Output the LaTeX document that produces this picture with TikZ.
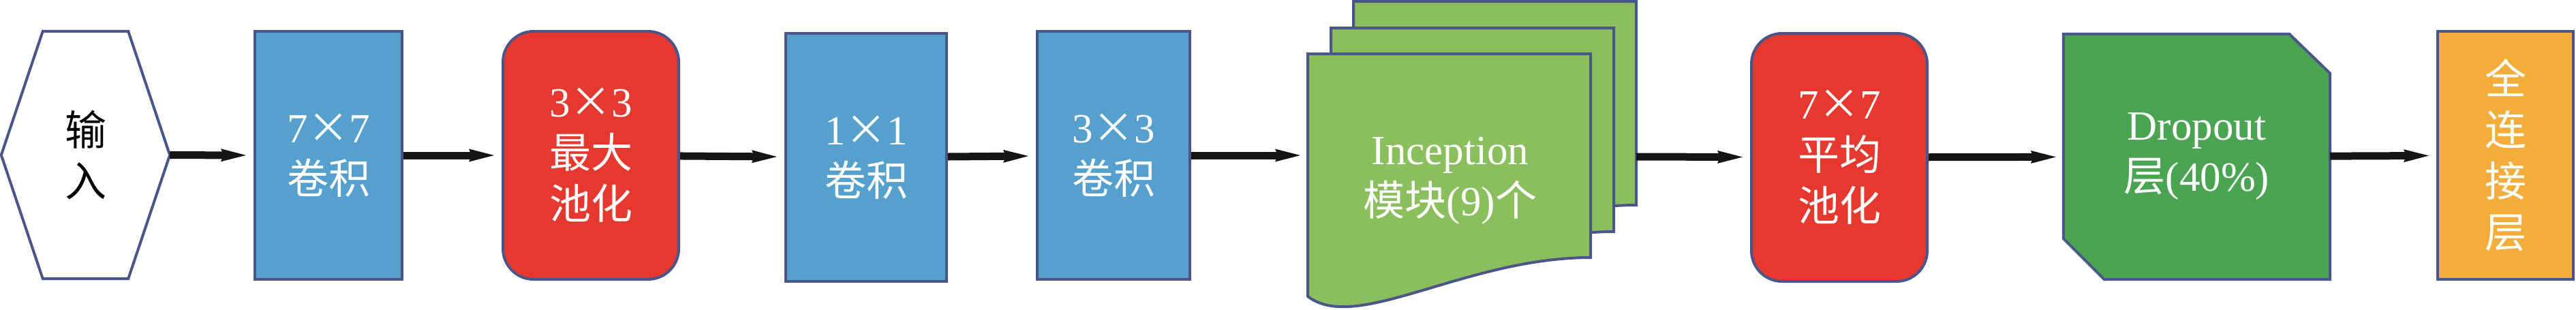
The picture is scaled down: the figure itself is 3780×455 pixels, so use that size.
\documentclass[tikz,border=0pt]{standalone}
\usepackage{fontspec}
\setmainfont{Liberation Serif}
\newfontfamily\cjk{Noto Sans CJK SC}
\usetikzlibrary{arrows.meta,calc,backgrounds}
\definecolor{bd}{HTML}{4A5589}
\definecolor{cblue}{HTML}{56A0CE}
\definecolor{cred}{HTML}{E5392F}
\definecolor{cgreen}{HTML}{8BBE5D}
\definecolor{cdgreen}{HTML}{4AA451}
\definecolor{corange}{HTML}{F2AD3A}
\definecolor{carrow}{HTML}{151515}
\newcommand\tms{{\cjk ×}}
\begin{document}
\begin{tikzpicture}[x=1pt,y=-1pt,
  txt/.style={inner sep=0pt, align=center, text=white, font=\fontsize{61}{75}\selectfont},
  blk/.style={txt, draw=bd, line width=4pt},
  outl/.style={draw=bd, line width=4pt},
  arr/.style={draw=carrow, line width=11pt, -{Stealth[length=37pt,width=19pt,inset=4pt,line width=0pt]}, shorten >=11pt}
]
\useasboundingbox (0,0) rectangle (3780,455);

% input hexagon
\node[txt, text=black, minimum width=247pt, minimum height=363pt] (inp) at (125.5,227.5) {{\cjk 输}\\{\cjk 入}};
\begin{scope}[on background layer]
\draw[outl, fill=white] (inp.west) -- ($(inp.north west)+(61,0)$) -- ($(inp.north east)+(-61,0)$) -- (inp.east) -- ($(inp.south east)+(-61,0)$) -- ($(inp.south west)+(61,0)$) -- cycle;
\end{scope}

% conv boxes and pools
\node[blk, fill=cblue, minimum width=216pt, minimum height=364pt] (c1) at (482,228) {7\tms7\\{\cjk 卷积}};
\node[blk, fill=cred, rounded corners=45pt, minimum width=258pt, minimum height=364pt] (p1) at (867,228) {3\tms3\\{\cjk 最大}\\{\cjk 池化}};
\node[blk, fill=cblue, minimum width=236pt, minimum height=364pt] (c2) at (1271,231) {1\tms1\\{\cjk 卷积}};
\node[blk, fill=cblue, minimum width=224pt, minimum height=364pt] (c3) at (1634,228) {3\tms3\\{\cjk 卷积}};

% inception stacked sheets
\begin{scope}[shift={(67,-77)}]
\draw[outl, fill=cgreen] (1919,79) -- (2334,79) -- (2334,378) .. controls (2150,378) and (1990,490) .. (1919,435) -- cycle;
\end{scope}
\begin{scope}[shift={(34,-38)}]
\draw[outl, fill=cgreen] (1919,79) -- (2334,79) -- (2334,378) .. controls (2150,378) and (1990,490) .. (1919,435) -- cycle;
\end{scope}
\draw[outl, fill=cgreen] (1919,79) -- (2334,79) -- (2334,378) .. controls (2150,378) and (1990,490) .. (1919,435) -- cycle;
\node[txt] (inc) at (2128,265) {Inception\\{\cjk 模块}(9){\cjk 个}};
\coordinate (incin) at (1919,228);
\coordinate (incout) at (2401,230);

\node[blk, fill=cred, rounded corners=45pt, minimum width=258pt, minimum height=364pt] (p2) at (2699,231) {7\tms7\\{\cjk 平均}\\{\cjk 池化}};

% dropout
\node[txt, minimum width=391pt, minimum height=360pt] (drop) at (3223.5,230) {Dropout\\{\cjk 层}(40\%)};
\begin{scope}[on background layer]
\draw[outl, fill=cdgreen] (drop.north west) -- ($(drop.north east)+(-60,0)$) -- ($(drop.north east)+(0,58)$) -- (drop.south east) -- ($(drop.south west)+(60,0)$) -- ($(drop.south west)+(0,-60)$) -- cycle;
\end{scope}

\node[blk, fill=corange, minimum width=199pt, minimum height=364pt] (fc) at (3676.5,228) {{\cjk 全}\\{\cjk 连}\\{\cjk 接}\\{\cjk 层}};

% connectors
\draw[arr] (inp) -- (c1);
\draw[arr] (c1) -- (p1);
\draw[arr] (p1) -- (c2);
\draw[arr] (c2) -- (c3);
\draw[arr] (c3) -- (incin);
\draw[arr] (incout) -- (p2);
\draw[arr] (p2) -- (drop);
\draw[arr] (drop) -- (fc);
\end{tikzpicture}
\end{document}
